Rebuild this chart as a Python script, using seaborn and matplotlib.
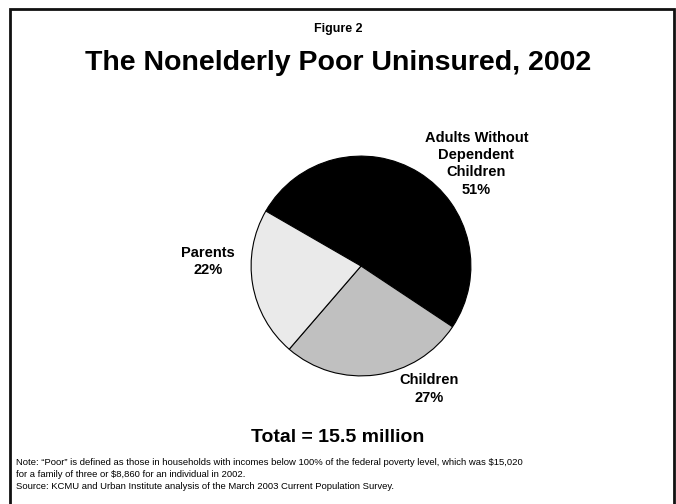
import matplotlib
matplotlib.use("Agg")
import matplotlib.pyplot as plt
import seaborn as sns
from matplotlib.patches import Rectangle

sns.set_style("white")
plt.rcParams['font.family'] = ['Liberation Sans', 'DejaVu Sans']
plt.rcParams['text.color'] = 'black'

# data
groups = ["Adults Without\nDependent\nChildren", "Children", "Parents"]
shares = [51, 27, 22]
colors = ["#000000", "#C0C0C0", "#EAEAEA"]
label_pos = [(1.05, 0.93), (0.62, -1.12), (-1.39, 0.04)]

W, H = 676, 504
fig = plt.figure(figsize=(W / 100, H / 100), dpi=100)
fig.patch.set_facecolor("white")

# frame around the slide
fig.patches.append(Rectangle((10 / W, -0.05), 664 / W, 1.05 - 9 / H,
                             transform=fig.transFigure, fill=False,
                             edgecolor="#111111", linewidth=2))

cx, cy, r = 361, 266, 111
ax = fig.add_axes([(cx - r) / W, (H - cy - r) / H, 2 * r / W, 2 * r / H])
ax.pie(shares, colors=colors, startangle=150, counterclock=False,
       wedgeprops=dict(edgecolor="black", linewidth=0.8))
ax.set_xlim(-1.01, 1.01)
ax.set_ylim(-1.01, 1.01)
ax.set_aspect("equal")
ax.axis("off")

for name, val, (lx, ly) in zip(groups, shares, label_pos):
    ax.text(lx, ly, f"{name}\n{val}%", ha="center", va="center",
            fontsize=10.5, fontweight="bold", clip_on=False, linespacing=1.3)

fig.text(0.5, 1 - 29 / H, "Figure 2", ha="center", va="center",
         fontsize=9, fontweight="bold")
fig.text(0.5, 1 - 63 / H, "The Nonelderly Poor Uninsured, 2002", ha="center",
         va="center", fontsize=20.5, fontweight="bold")
fig.text(0.5, 1 - 438 / H, "Total = 15.5 million", ha="center", va="center",
         fontsize=14, fontweight="bold")

notes = ["Note: \u201cPoor\u201d is defined as those in households with incomes below 100% of the federal poverty level, which was $15,020",
         "for a family of three or $8,860 for an individual in 2002.",
         "Source: KCMU and Urban Institute analysis of the March 2003 Current Population Survey."]
fig.text(16 / W, 1 - 458 / H, "\n".join(notes), ha="left", va="top",
         fontsize=6.8, linespacing=1.45)

fig.savefig("out.png", dpi=100)
